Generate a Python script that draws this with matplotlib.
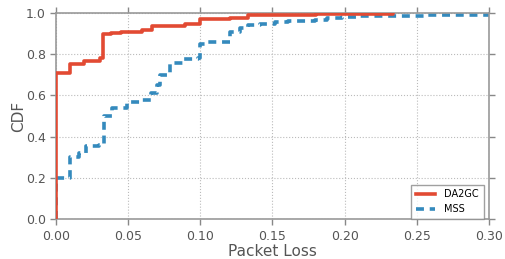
import matplotlib
matplotlib.use("Agg")
import matplotlib.pyplot as plt

# DA2GC CDF steps (packet loss, cdf level after step)
da2gc_x = [0.0, 0.0, 0.0097, 0.0194, 0.0305, 0.0328, 0.038, 0.045, 0.0594, 0.0663, 0.0894, 0.0998, 0.1206, 0.1333, 0.18, 0.2338]
da2gc_y = [0.0, 0.71, 0.751, 0.767, 0.78, 0.898, 0.904, 0.906, 0.917, 0.938, 0.945, 0.972, 0.977, 0.99, 0.993, 1.0]

# MSS CDF steps
mss_x = [0.0, 0.0, 0.0097, 0.016, 0.021, 0.03, 0.033, 0.0386, 0.049, 0.058, 0.066, 0.0698, 0.072, 0.079, 0.089, 0.0985,
         0.0998, 0.105, 0.1206, 0.1275, 0.133, 0.1414, 0.152, 0.161, 0.169, 0.1795, 0.188, 0.198, 0.21, 0.257, 0.32]
mss_y = [0.0, 0.2, 0.3, 0.32, 0.355, 0.36, 0.5, 0.54, 0.569, 0.58, 0.61, 0.65, 0.70, 0.756, 0.775, 0.78,
         0.85, 0.86, 0.909, 0.926, 0.942, 0.947, 0.955, 0.96, 0.963, 0.968, 0.976, 0.982, 0.985, 0.99, 0.99]

x_ticks = [0.00, 0.05, 0.10, 0.15, 0.20, 0.25, 0.30]
y_ticks = [0.0, 0.2, 0.4, 0.6, 0.8, 1.0]

fig = plt.figure(figsize=(5.05, 2.59), dpi=100)
ax = fig.add_axes([0.111, 0.154, 0.857, 0.796])

gray = "#555555"
ax.step(da2gc_x, da2gc_y, where="post", color="#E24A33", lw=2.6, label="DA2GC", zorder=3)
ax.step(mss_x, mss_y, where="post", color="#348ABD", lw=2.6, ls=(0, (2.2, 1.6)), label="MSS", zorder=2)

ax.set_xlim(0, 0.30)
ax.set_ylim(0, 1.0)
ax.set_xticks(x_ticks)
ax.set_xticklabels([f"{v:.2f}" for v in x_ticks])
ax.set_yticks(y_ticks)
ax.set_yticklabels([f"{v:.1f}" for v in y_ticks])
ax.grid(True, color="#bbbbbb", ls=":", lw=0.8)
ax.set_axisbelow(True)
for s in ax.spines.values():
    s.set_color("#999999")
    s.set_linewidth(1.2)
ax.tick_params(axis="both", which="both", direction="out", length=4, width=1,
               color="#888888", labelcolor=gray, labelsize=9,
               top=True, right=True, labeltop=False, labelright=False)
ax.set_xlabel("Packet Loss", color=gray, fontsize=11, labelpad=1)
ax.set_ylabel("CDF", color=gray, fontsize=11, labelpad=0)

leg = ax.legend(loc="lower right", bbox_to_anchor=(0.988, 0.0), fontsize=7, frameon=True,
                fancybox=False, handlelength=2.0, handletextpad=0.9, borderpad=0.5,
                labelspacing=0.5, borderaxespad=0.0)
leg.get_frame().set_edgecolor("#888888")
leg.get_frame().set_linewidth(1.0)

fig.savefig("out.png", dpi=100)
